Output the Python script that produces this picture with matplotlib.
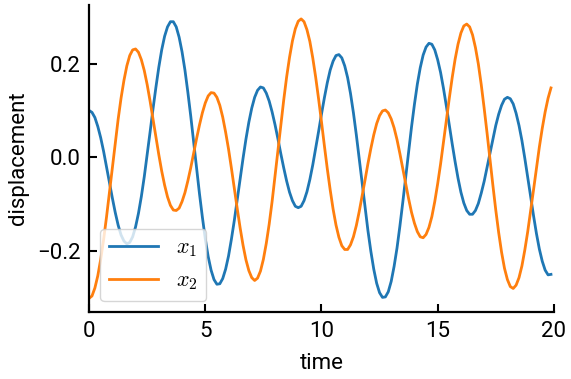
import matplotlib.pyplot as plt

plt.rcParams['font.family'] = ['Roboto', 'DejaVu Sans']
plt.rcParams['mathtext.fontset'] = 'cm'

# time samples (every 0.125, last one at 19.875) and the two displacements
time = [i * 0.125 for i in range(160)]
x1 = [0.100, 0.096, 0.085, 0.066, 0.042, 0.013, -0.020, -0.053, -0.086, -0.117,
      -0.144, -0.165, -0.178, -0.184, -0.181, -0.169, -0.148, -0.119, -0.083, -0.041,
      0.006, 0.054, 0.103, 0.149, 0.192, 0.229, 0.258, 0.278, 0.289, 0.289,
      0.278, 0.256, 0.225, 0.186, 0.139, 0.088, 0.033, -0.023, -0.077, -0.127,
      -0.173, -0.211, -0.240, -0.260, -0.270, -0.269, -0.258, -0.238, -0.210, -0.174,
      -0.134, -0.090, -0.046, -0.002, 0.039, 0.075, 0.105, 0.128, 0.143, 0.150,
      0.148, 0.137, 0.120, 0.097, 0.070, 0.040, 0.008, -0.022, -0.050, -0.074,
      -0.092, -0.104, -0.107, -0.104, -0.092, -0.073, -0.047, -0.016, 0.019, 0.055,
      0.092, 0.127, 0.159, 0.186, 0.205, 0.217, 0.219, 0.212, 0.195, 0.170,
      0.136, 0.095, 0.048, -0.003, -0.055, -0.106, -0.156, -0.200, -0.238, -0.268,
      -0.288, -0.298, -0.297, -0.286, -0.264, -0.232, -0.193, -0.146, -0.095, -0.042,
      0.012, 0.065, 0.113, 0.156, 0.191, 0.218, 0.235, 0.243, 0.241, 0.229,
      0.208, 0.181, 0.147, 0.109, 0.069, 0.029, -0.009, -0.044, -0.074, -0.097,
      -0.113, -0.121, -0.121, -0.113, -0.098, -0.076, -0.051, -0.021, 0.010, 0.040,
      0.068, 0.092, 0.111, 0.124, 0.128, 0.125, 0.114, 0.094, 0.068, 0.036,
      -0.002, -0.042, -0.083, -0.124, -0.162, -0.195, -0.221, -0.240, -0.250, -0.249]
x2 = [-0.300, -0.295, -0.278, -0.252, -0.217, -0.175, -0.127, -0.075, -0.022, 0.031,
      0.081, 0.126, 0.164, 0.195, 0.217, 0.229, 0.231, 0.224, 0.208, 0.185,
      0.155, 0.120, 0.082, 0.044, 0.006, -0.029, -0.059, -0.084, -0.102, -0.112,
      -0.113, -0.108, -0.094, -0.075, -0.050, -0.022, 0.009, 0.040, 0.069, 0.095,
      0.116, 0.131, 0.138, 0.137, 0.128, 0.111, 0.086, 0.054, 0.018, -0.023,
      -0.066, -0.109, -0.150, -0.187, -0.218, -0.241, -0.256, -0.262, -0.257, -0.242,
      -0.217, -0.183, -0.142, -0.094, -0.041, 0.014, 0.069, 0.122, 0.171, 0.213,
      0.248, 0.274, 0.290, 0.295, 0.289, 0.272, 0.247, 0.212, 0.171, 0.125,
      0.076, 0.025, -0.024, -0.069, -0.110, -0.144, -0.170, -0.188, -0.196, -0.196,
      -0.186, -0.169, -0.145, -0.115, -0.082, -0.048, -0.013, 0.019, 0.048, 0.072,
      0.089, 0.099, 0.101, 0.095, 0.082, 0.063, 0.038, 0.008, -0.024, -0.056,
      -0.088, -0.117, -0.140, -0.158, -0.169, -0.171, -0.164, -0.149, -0.126, -0.094,
      -0.056, -0.014, 0.033, 0.080, 0.126, 0.170, 0.209, 0.241, 0.265, 0.280,
      0.284, 0.278, 0.261, 0.234, 0.199, 0.155, 0.105, 0.052, -0.004, -0.059,
      -0.112, -0.160, -0.202, -0.236, -0.260, -0.275, -0.279, -0.272, -0.256, -0.231,
      -0.197, -0.158, -0.114, -0.069, -0.023, 0.022, 0.062, 0.097, 0.126, 0.148]

fig = plt.figure(figsize=(5.71, 3.79), dpi=100)
ax = fig.add_axes([0.156, 0.176, 0.814, 0.811])
ax.plot(time, x1, color='#1f77b4', lw=2.0, label='$x_1$')
ax.plot(time, x2, color='#ff7f0e', lw=2.0, label='$x_2$')
ax.set_xlim(0, 20)
ax.set_xticks([0, 5, 10, 15, 20])
ax.set_yticks([-0.2, 0.0, 0.2])
ax.set_xlabel('time', fontsize=16, labelpad=8)
ax.set_ylabel('displacement', fontsize=16, labelpad=6)
ax.tick_params(direction='in', length=6, width=1.5, labelsize=16, pad=6)
for s in ['top', 'right']:
    ax.spines[s].set_visible(False)
for s in ['left', 'bottom']:
    ax.spines[s].set_linewidth(1.6)
ax.legend(loc='lower left', fontsize=16, handlelength=2.2, handletextpad=0.8,
          framealpha=0.8)
fig.savefig('out.png', dpi=100)
